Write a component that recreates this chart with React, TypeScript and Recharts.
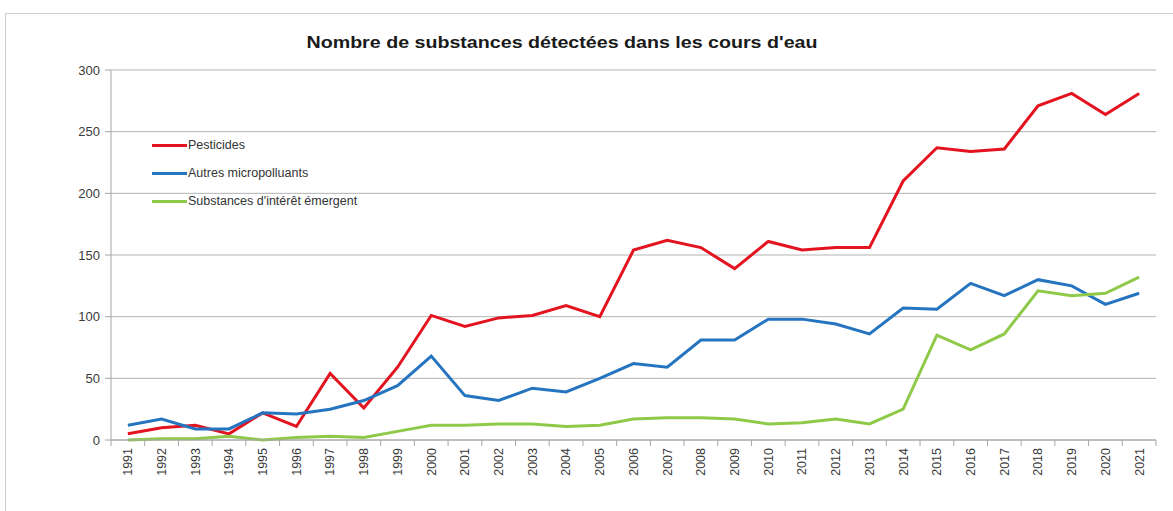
import React from "react";
import { LineChart, Line, XAxis, YAxis, CartesianGrid } from "recharts";

const years = [
  "1991", "1992", "1993", "1994", "1995", "1996", "1997", "1998", "1999", "2000",
  "2001", "2002", "2003", "2004", "2005", "2006", "2007", "2008", "2009", "2010",
  "2011", "2012", "2013", "2014", "2015", "2016", "2017", "2018", "2019", "2020", "2021",
];

const pesticides = [
  5, 10, 12, 5, 22, 11, 54, 26, 59, 101,
  92, 99, 101, 109, 100, 154, 162, 156, 139, 161,
  154, 156, 156, 210, 237, 234, 236, 271, 281, 264, 281,
];

const autresMicropolluants = [
  12, 17, 9, 9, 22, 21, 25, 32, 44, 68,
  36, 32, 42, 39, 50, 62, 59, 81, 81, 98,
  98, 94, 86, 107, 106, 127, 117, 130, 125, 110, 119,
];

const emergents = [
  0, 1, 1, 3, 0, 2, 3, 2, 7, 12,
  12, 13, 13, 11, 12, 17, 18, 18, 17, 13,
  14, 17, 13, 25, 85, 73, 86, 121, 117, 119, 132,
];

const yTicks = [0, 50, 100, 150, 200, 250, 300];

const seriesNames = ["Pesticides", "Autres micropolluants", "Substances d'intérêt émergent"];
const seriesColors = ["#e3141f", "#2574c0", "#8fc94a"];

const data = years.map((year, i) => ({
  year,
  pesticides: pesticides[i],
  autres: autresMicropolluants[i],
  emergents: emergents[i],
}));

const W = 1173;
const H = 511;
const PLOT_LEFT = 111;
const PLOT_RIGHT = 1156;
const FONT = "'Liberation Sans', Arial, sans-serif";
const AXIS_GRAY = "#a6a6a6";

// Excel-style category axis: points sit in the middle of each band
const band = (PLOT_RIGHT - PLOT_LEFT) / years.length;

function YearTick(props: any) {
  const { x, y, payload, index } = props;
  const last = index === years.length - 1;
  return (
    <g>
      <line x1={x - band / 2} x2={x - band / 2} y1={y} y2={y + 6} stroke={AXIS_GRAY} />
      {last && <line x1={x + band / 2} x2={x + band / 2} y1={y} y2={y + 6} stroke={AXIS_GRAY} />}
      <text
        x={x}
        y={y + 8}
        transform={`rotate(-90, ${x}, ${y + 8})`}
        textAnchor="end"
        dy="0.35em"
        fontSize={12.5}
        fill="#3a3a3a"
        fontFamily={FONT}
      >
        {payload.value}
      </text>
    </g>
  );
}

function LegendBox() {
  return (
    <div style={{ position: "absolute", left: 152, top: 131, fontFamily: FONT, fontSize: 12.5, color: "#333" }}>
      {seriesNames.map((name, i) => (
        <div key={name} style={{ display: "flex", alignItems: "center", height: 28 }}>
          <span style={{ display: "inline-block", width: 35, height: 3, background: seriesColors[i] }} />
          <span style={{ marginLeft: 1 }}>{name}</span>
        </div>
      ))}
    </div>
  );
}

export default function App() {
  return (
    <div style={{ position: "absolute", left: 0, top: 0, width: W, height: H, background: "#fff" }}>
      <svg width={W} height={H} style={{ position: "absolute", left: 0, top: 0 }}>
        <line x1={5} x2={W} y1={13.5} y2={13.5} stroke="#cfcfcf" />
        <line x1={5.5} x2={5.5} y1={13} y2={H} stroke="#cfcfcf" />
        <text
          x={562}
          y={48}
          textAnchor="middle"
          fontFamily={FONT}
          fontSize={17}
          fontWeight="bold"
          fill="#1a1a1a"
          textLength={511}
          lengthAdjust="spacingAndGlyphs"
        >
          Nombre de substances détectées dans les cours d'eau
        </text>
      </svg>
      <div style={{ position: "absolute", left: 0, top: 0 }}>
        <LineChart
          width={W}
          height={H}
          data={data}
          margin={{ top: 70, right: W - PLOT_RIGHT, bottom: 21, left: 0 }}
        >
          <CartesianGrid vertical={false} stroke="#b3b3b3" />
          <XAxis
            dataKey="year"
            interval={0}
            height={50}
            padding={{ left: band / 2, right: band / 2 }}
            tickLine={false}
            tickSize={0}
            tickMargin={0}
            stroke={AXIS_GRAY}
            tick={<YearTick />}
          />
          <YAxis
            width={PLOT_LEFT}
            domain={[0, 300]}
            ticks={yTicks}
            interval={0}
            stroke={AXIS_GRAY}
            tickSize={6}
            tickMargin={5}
            tick={{ fill: "#3a3a3a", fontSize: 13, fontFamily: FONT }}
          />
          <Line type="linear" dataKey="pesticides" name={seriesNames[0]} stroke={seriesColors[0]} strokeWidth={3} dot={false} isAnimationActive={false} />
          <Line type="linear" dataKey="autres" name={seriesNames[1]} stroke={seriesColors[1]} strokeWidth={3} dot={false} isAnimationActive={false} />
          <Line type="linear" dataKey="emergents" name={seriesNames[2]} stroke={seriesColors[2]} strokeWidth={3} dot={false} isAnimationActive={false} />
        </LineChart>
      </div>
      <LegendBox />
    </div>
  );
}
